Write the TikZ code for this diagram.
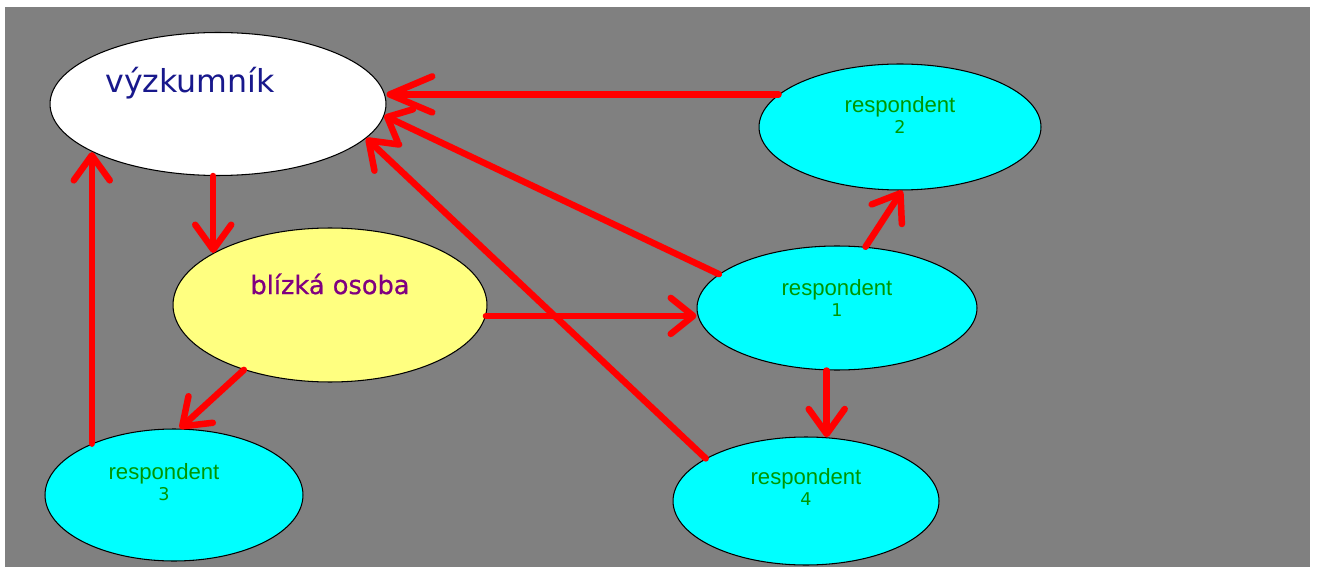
\documentclass[tikz,border=0pt]{standalone}
\usepackage{fontspec}
\setmainfont{DejaVu Sans}
\newfontfamily\respfont{Liberation Sans}
\newfontfamily\osobafont[FakeBold=0.7]{DejaVu Sans}
\usepackage{tikz}
\usetikzlibrary{arrows.meta}
\usetikzlibrary{shapes.geometric}
\tikzset{arr/.style = {mred, line width = 0.13cm, line cap = round,
                       -{Straight Barb[length = #1, width = 0.72cm, round]}},
         arr/.default = 0.5cm}
\tikzset{oval/.style = {ellipse, draw = black, line width = 0.6pt, inner sep = 0}}
\tikzset{resp/.style = {oval, fill = mcyan}}
\definecolor{mgray}{RGB}{128, 128, 128}
\definecolor{mred}{RGB}{255, 0, 0}
\definecolor{mcyan}{RGB}{0, 255, 255}
\definecolor{myellow}{RGB}{255, 255, 128}
\definecolor{mnavy}{RGB}{24, 24, 140}
\definecolor{mpurple}{RGB}{128, 0, 128}
\definecolor{mgreen}{RGB}{0, 150, 0}
\newcommand{\resptext}[1]{\respfont\fontsize{12.6}{12.5}\selectfont respondent\\#1}

\begin{document}
\begin{tikzpicture}[x = 0.02cm, y = -0.02cm]
      \useasboundingbox (0, 0) rectangle (1317, 567);
      \fill [mgray] (5, 7) rectangle (1310, 567);

      \node [oval, fill = white, minimum width = 6.72cm, minimum height = 2.86cm,
             label = {[mnavy, xshift = -0.56cm, yshift = 0.42cm]center:\fontsize{18}{20}\selectfont výzkumník}]
             (v) at (218, 104) {};
      \node [oval, fill = myellow, minimum width = 6.28cm, minimum height = 3.08cm,
             label = {[mpurple, yshift = 0.42cm]center:\osobafont\fontsize{14.6}{16}\selectfont blízká osoba}]
             (b) at (330, 305) {};
      \node [resp, minimum width = 5.6cm, minimum height = 2.48cm,
             label = {[mgreen, align = center, yshift = 0.2cm]center:\resptext{1}}]
             (r1) at (837, 308) {};
      \node [resp, minimum width = 5.64cm, minimum height = 2.52cm,
             label = {[mgreen, align = center, yshift = 0.24cm]center:\resptext{2}}]
             (r2) at (900, 127) {};
      \node [resp, minimum width = 5.16cm, minimum height = 2.64cm,
             label = {[mgreen, align = center, xshift = -0.2cm, yshift = 0.26cm]center:\resptext{3}}]
             (r3) at (174, 495) {};
      \node [resp, minimum width = 5.32cm, minimum height = 2.56cm,
             label = {[mgreen, align = center, yshift = 0.28cm]center:\resptext{4}}]
             (r4) at (806, 501) {};

      \draw [arr = 0.85cm] (r2.165) -- (r2.165 -| v.east);
      \draw [arr = 0.4cm] (r1.164) -- (v.-4);
      \draw [arr] (r4.157) -- (v.-13);
      \draw [arr] (r3.148) -- (r3.148 |- v.-159);
      \draw [arr] (b.156 |- v.south) -- (b.156);
      \draw [arr = 0.45cm] (b.-4) -- (b.-4 -| r1.west);
      \draw [arr] (b.-143) -- (r3.85);
      \draw [arr] (r1.65) -- (r2.-88);
      \draw [arr] (r4.72 |- r1.south) -- (r4.72);
    \end{tikzpicture}
\end{document}
